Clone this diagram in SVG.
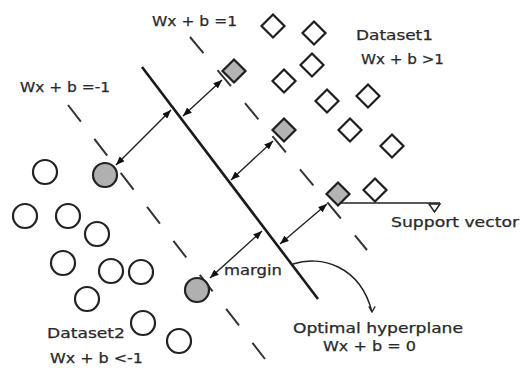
<svg xmlns="http://www.w3.org/2000/svg" width="522" height="368" viewBox="0 0 522 368">
<style>
.bg{fill:#ffffff}
.dash{stroke:#333;stroke-width:2;stroke-dasharray:21 22;fill:none}
.main{stroke:#1a1a1a;stroke-width:2.6;fill:none}
.arr{stroke:#222;stroke-width:1.4;fill:none;marker-start:url(#ah);marker-end:url(#ah)}
.sv{stroke:#222;stroke-width:1.6;fill:none}
.cur{stroke:#222;stroke-width:1.4;fill:none;marker-end:url(#open)}
.dia{fill:#fff;stroke:#1e1e1e;stroke-width:2.2}
.dia.g{fill:#b3b3b3}
.cir{fill:#fff;stroke:#222;stroke-width:2.2}
.cir.g{fill:#b0b0b0}
text{font-family:"DejaVu Sans","Liberation Sans",sans-serif;font-size:13.5px;fill:#2a2a2a;stroke:#2a2a2a;stroke-width:0.25}
</style>
<defs>
<marker id="ah" viewBox="0 0 10 8" refX="10" refY="4" markerWidth="9" markerHeight="7" markerUnits="userSpaceOnUse" orient="auto-start-reverse">
<path d="M0,0 L10,4 L0,8 Z" fill="#111"/>
</marker>
<marker id="open" viewBox="0 0 10 10" refX="5" refY="9" markerWidth="8" markerHeight="8" markerUnits="userSpaceOnUse" orient="0">
<path d="M1,2 L5,9 L9,2" fill="none" stroke="#222" stroke-width="1.6"/>
</marker>
</defs>
<rect class="bg" x="0" y="0" width="522" height="368"/>

<g id="connectors">
<line class="dash" x1="68" y1="105" x2="265" y2="359"/>
<line class="dash" x1="190" y1="37" x2="367" y2="250"/>
<line class="main" x1="142" y1="67" x2="318" y2="299"/>
<line class="arr" x1="116" y1="165" x2="171" y2="110"/>
<line class="arr" x1="183" y1="116" x2="222" y2="80"/>
<line class="arr" x1="231" y1="180" x2="273" y2="141"/>
<line class="arr" x1="280" y1="244" x2="327" y2="204"/>
<line class="arr" x1="210" y1="278" x2="262" y2="231"/>
<line class="sv" x1="341" y1="203" x2="440" y2="203"/>
<polygon points="429,204 440,204 434.5,212" fill="#fff" stroke="#222" stroke-width="1.5"/>
<path class="cur" d="M293,264 C320,255 360,265 372,312"/>
</g>

<g id="dataset1">
<path class="dia" d="M0 -11.5 11.5 0 0 11.5 -11.5 0Z" transform="translate(273,26)"/>
<path class="dia" d="M0 -11.5 11.5 0 0 11.5 -11.5 0Z" transform="translate(314,33)"/>
<path class="dia" d="M0 -11.5 11.5 0 0 11.5 -11.5 0Z" transform="translate(312,65)"/>
<path class="dia" d="M0 -11.5 11.5 0 0 11.5 -11.5 0Z" transform="translate(284,81)"/>
<path class="dia" d="M0 -11.5 11.5 0 0 11.5 -11.5 0Z" transform="translate(327,101)"/>
<path class="dia" d="M0 -11.5 11.5 0 0 11.5 -11.5 0Z" transform="translate(368,96)"/>
<path class="dia" d="M0 -11.5 11.5 0 0 11.5 -11.5 0Z" transform="translate(350,130)"/>
<path class="dia" d="M0 -11.5 11.5 0 0 11.5 -11.5 0Z" transform="translate(392,146)"/>
<path class="dia" d="M0 -11.5 11.5 0 0 11.5 -11.5 0Z" transform="translate(375,190)"/>
</g>
<g id="support-vectors-1">
<path class="dia g" d="M0 -11.5 11.5 0 0 11.5 -11.5 0Z" transform="translate(234,71)"/>
<path class="dia g" d="M0 -11.5 11.5 0 0 11.5 -11.5 0Z" transform="translate(284,130)"/>
<path class="dia g" d="M0 -11.5 11.5 0 0 11.5 -11.5 0Z" transform="translate(338,194)"/>
</g>

<g id="dataset2">
<circle class="cir" cx="45" cy="172" r="12"/>
<circle class="cir" cx="25" cy="216" r="12"/>
<circle class="cir" cx="68" cy="216" r="12"/>
<circle class="cir" cx="97" cy="234" r="12"/>
<circle class="cir" cx="63" cy="263" r="12"/>
<circle class="cir" cx="111" cy="271" r="12"/>
<circle class="cir" cx="141" cy="272" r="12"/>
<circle class="cir" cx="87" cy="299" r="12"/>
<circle class="cir" cx="143" cy="323" r="12"/>
<circle class="cir" cx="179" cy="341" r="12"/>
</g>
<g id="support-vectors-2">
<circle class="cir g" cx="105" cy="175" r="12"/>
<circle class="cir g" cx="197" cy="290" r="12"/>
</g>

<g id="labels">
<text x="152" y="26" textLength="85" lengthAdjust="spacingAndGlyphs">Wx + b =1</text>
<text x="20" y="92" textLength="90" lengthAdjust="spacingAndGlyphs">Wx + b =-1</text>
<text x="356" y="40" textLength="77" lengthAdjust="spacingAndGlyphs">Dataset1</text>
<text x="361" y="64" textLength="83" lengthAdjust="spacingAndGlyphs">Wx + b &gt;1</text>
<text x="391" y="227" textLength="128" lengthAdjust="spacingAndGlyphs">Support vector</text>
<text x="224" y="275" textLength="58" lengthAdjust="spacingAndGlyphs">margin</text>
<text x="293" y="333" textLength="170" lengthAdjust="spacingAndGlyphs">Optimal hyperplane</text>
<text x="323" y="351" textLength="93" lengthAdjust="spacingAndGlyphs">Wx + b = 0</text>
<text x="47" y="338" textLength="78" lengthAdjust="spacingAndGlyphs">Dataset2</text>
<text x="50" y="363" textLength="93" lengthAdjust="spacingAndGlyphs">Wx + b &lt;-1</text>
</g>
</svg>
